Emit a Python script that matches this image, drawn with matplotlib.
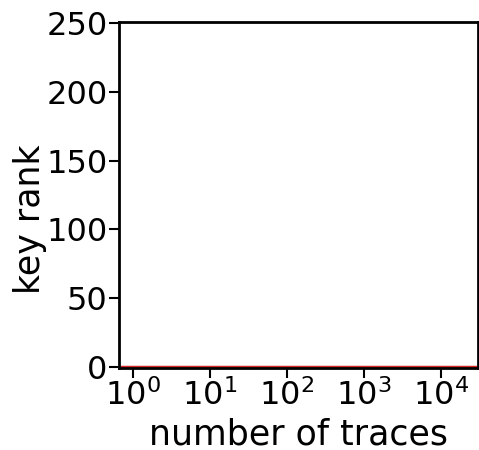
"""Key rank vs number of traces (log x)."""

import matplotlib

matplotlib.use("Agg")

import matplotlib.pyplot as plt

# values: the key rank stays at 0 for every trace count
num_traces = [0.5, 1, 10, 100, 1000, 10000, 30000]
key_rank = [0, 0, 0, 0, 0, 0, 0]

plt.rcParams["font.size"] = 23

fig, ax = plt.subplots(figsize=(4.79, 4.5), dpi=100)
ax.plot(num_traces, key_rank, color="#d62728", lw=2.5)
ax.set_xscale("log")
ax.set_xlim(0.66, 3.0e4)
ax.set_ylim(-1, 251)
ax.set_yticks([0, 50, 100, 150, 200, 250])
ax.set_xticks([1, 10, 100, 1000, 10000])
ax.set_xlabel("number of traces", fontsize=25, labelpad=4)
ax.set_ylabel("key rank", fontsize=25)
ax.yaxis.set_label_coords(-0.2, 0.43)
for s in ax.spines.values():
    s.set_linewidth(2)
ax.tick_params(axis="both", which="major", width=1.5, length=7, pad=1)
ax.tick_params(axis="x", which="minor", width=1.5, length=4)

fig.subplots_adjust(left=0.248, right=0.998, top=0.951, bottom=0.182)
fig.savefig("out.png", dpi=100)
plt.close(fig)
